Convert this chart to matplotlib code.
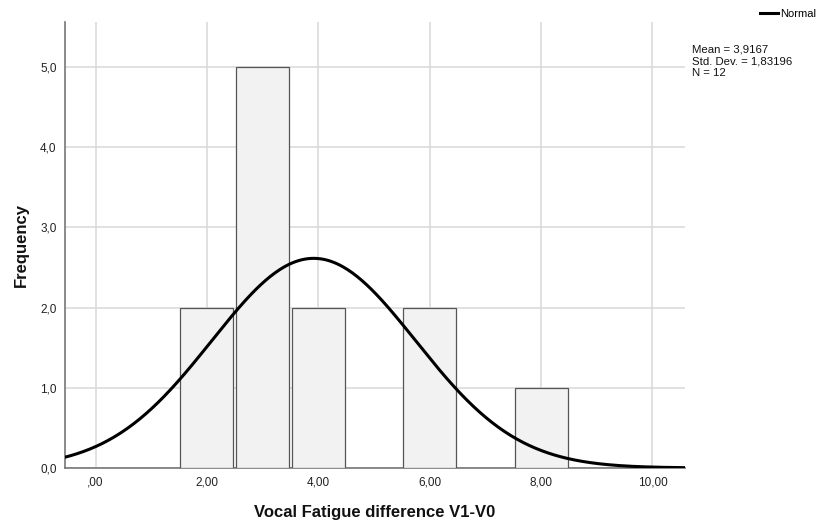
import numpy as np
import matplotlib
matplotlib.use('Agg')
import matplotlib.pyplot as plt
from matplotlib.ticker import FuncFormatter

plt.rcParams['font.family'] = ['Liberation Sans', 'DejaVu Sans']

# histogram bins (value -> count)
bin_centres = [2, 3, 4, 6, 8]
counts = [2, 5, 2, 2, 1]
mean = 3.9167
std_dev = 1.83196
n_obs = 12
bin_width = 1.0

x_ticks = [0, 2, 4, 6, 8, 10]
y_ticks = [0, 1, 2, 3, 4, 5]

stats_lines = ['Mean = 3,9167', 'Std. Dev. = 1,83196', 'N = ' + str(n_obs)]

fig = plt.figure(figsize=(8.22, 5.24), dpi=100)
ax = fig.add_axes([0.079, 0.107, 0.754, 0.851])

ax.bar(bin_centres, counts, width=0.95, color='#f2f2f2', edgecolor='#555555',
       linewidth=0.9, zorder=3)

# fitted normal curve, scaled to counts
xs = np.linspace(-0.55, 10.58, 400)
pdf = np.exp(-0.5 * ((xs - mean) / std_dev) ** 2) / (std_dev * np.sqrt(2 * np.pi))
line, = ax.plot(xs, pdf * n_obs * bin_width, color='black', linewidth=2.2, zorder=4)

ax.set_xlim(-0.55, 10.58)
ax.set_ylim(0, 5.56)
ax.set_xticks(x_ticks)
ax.set_yticks(y_ticks)

def comma(fmt):
    return FuncFormatter(lambda v, p: (fmt % v).replace('.', ','))

ax.xaxis.set_major_formatter(FuncFormatter(lambda v, p: ',00' if v == 0 else ('%.2f' % v).replace('.', ',')))
ax.yaxis.set_major_formatter(comma('%.1f'))
ax.tick_params(length=0, labelsize=8.5, colors='#222222', pad=6)

ax.grid(True, color='#d8d8d8', linewidth=1.1, zorder=0)
ax.set_axisbelow(True)
for side in ['top', 'right']:
    ax.spines[side].set_visible(False)
for side in ['left', 'bottom']:
    ax.spines[side].set_color('#777777')
    ax.spines[side].set_linewidth(1.2)

ax.set_xlabel('Vocal Fatigue difference V1-V0', fontsize=12, fontweight='bold',
              labelpad=12, color='#111111')
ax.set_ylabel('Frequency', fontsize=12, fontweight='bold', labelpad=8, color='#111111')

# stats box, one text per line (pixel rows from the top)
for i, s in enumerate(stats_lines):
    fig.text(692 / 822, 1 - (49.5 + 11.7 * i) / 524, s, fontsize=8.2, va='center',
             ha='left', color='#111111')

leg = fig.legend([line], ['Normal'], loc='upper right', bbox_to_anchor=(1.0, 0.993),
                 frameon=False, fontsize=8, handlelength=1.6, handletextpad=0.25,
                 borderaxespad=0.1)

fig.savefig('out.png', dpi=100)
